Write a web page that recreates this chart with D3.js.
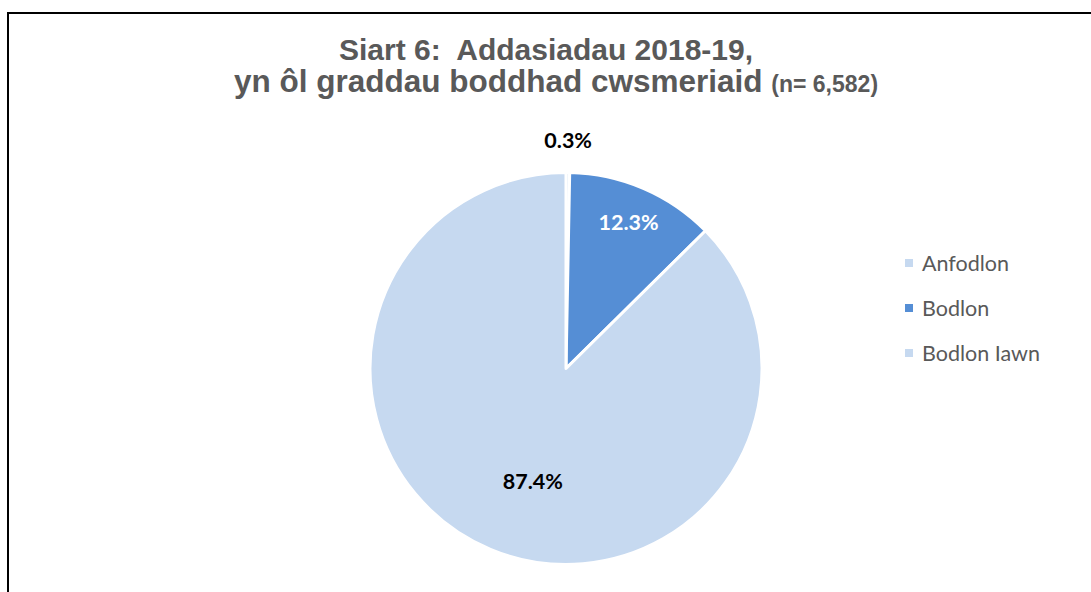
<!DOCTYPE html>
<html>
<head>
<meta charset="utf-8">
<script src="https://cdn.jsdelivr.net/npm/d3@7"></script>
<style>
  body { margin: 0; background: #fff; }
  svg { display: block; }
</style>
</head>
<body>
<div id="chart"></div>
<script>
// chart data
const categories = ["Anfodlon", "Bodlon", "Bodlon Iawn"];
const values = [0.3, 12.3, 87.4];
const colours = ["#C6D9F0", "#558ED5", "#C6D9F0"];
const titleLine1 = "Siart 6:  Addasiadau 2018-19,";
const titleLine2 = "yn ôl graddau boddhad cwsmeriaid";
const titleNote = "(n= 6,582)";

let width = 1091;
let height = 592;
let cx = 566, cy = 368.5, radius = 196;

let svg = d3.select('#chart')
    .append('svg')
    .attr('width', width)
    .attr('height', height);

svg.append('rect').attr('width', width).attr('height', height).attr('fill', '#fff');

// chart frame (only top and left visible)
svg.append('path')
    .attr('d', 'M8,' + (height + 5) + 'V13H' + (width + 5))
    .attr('fill', 'none')
    .attr('stroke', '#000')
    .attr('stroke-width', 2);

// title
let title = svg.append('g')
    .attr('font-family', '"Liberation Sans", Arial, sans-serif')
    .attr('font-weight', 'bold')
    .attr('fill', '#595959')
    .attr('text-anchor', 'middle');

title.append('text')
    .attr('x', 546).attr('y', 60)
    .attr('font-size', 30)
    .style('white-space', 'pre')
    .text(titleLine1);

let t2 = title.append('text')
    .attr('x', 556).attr('y', 92)
    .attr('font-size', 31.5);
t2.append('tspan').text(titleLine2 + ' ');
t2.append('tspan').attr('font-size', 23).text(titleNote);

// pie
let pie = d3.pie().sort(null).value(function (d) { return d; });
let arcs = pie(values);
let arc = d3.arc().innerRadius(0).outerRadius(radius);

let g = svg.append('g').attr('transform', 'translate(' + cx + ',' + cy + ')');

g.selectAll('path.slice')
    .data(arcs)
    .enter()
    .append('path')
    .attr('class', 'slice')
    .attr('d', arc)
    .attr('fill', function (d, i) { return colours[i]; })
    .attr('stroke', '#fff')
    .attr('stroke-width', 3)
    .attr('stroke-linejoin', 'round');

// data labels: tiny slice outside, others inside
function labelPos(d, i) {
    let a = (d.startAngle + d.endAngle) / 2;
    let r = radius * 0.6;
    if (d.value < 1) r = radius + 32;
    else if (d.value < 50) r = radius * 0.81;
    else a = a - 0.11;
    return [Math.sin(a) * r, -Math.cos(a) * r];
}

g.selectAll('text.lbl')
    .data(arcs)
    .enter()
    .append('text')
    .attr('class', 'lbl')
    .attr('transform', function (d, i) { return 'translate(' + labelPos(d, i) + ')'; })
    .attr('text-anchor', 'middle')
    .attr('dy', '0.36em')
    .attr('font-family', 'Lato, "Open Sans", sans-serif')
    .attr('font-weight', 'bold')
    .attr('font-size', 21.5)
    .attr('fill', function (d, i) { return i === 1 ? '#fff' : '#000'; })
    .text(function (d) { return d.value.toFixed(1) + '%'; });

// legend
let legendY = d3.scalePoint().domain(categories).range([263, 353]);

let legend = svg.append('g')
    .selectAll('g')
    .data(categories)
    .enter()
    .append('g')
    .attr('transform', function (d) { return 'translate(905,' + legendY(d) + ')'; });

legend.append('rect')
    .attr('x', 0).attr('y', -4)
    .attr('width', 8).attr('height', 8)
    .attr('fill', function (d, i) { return colours[i]; });

legend.append('text')
    .attr('x', 17)
    .attr('dy', '0.35em')
    .attr('font-family', 'Lato, "Open Sans", sans-serif')
    .attr('font-size', 21.5)
    .attr('fill', '#595959')
    .text(function (d) { return d; });
</script>
</body>
</html>
